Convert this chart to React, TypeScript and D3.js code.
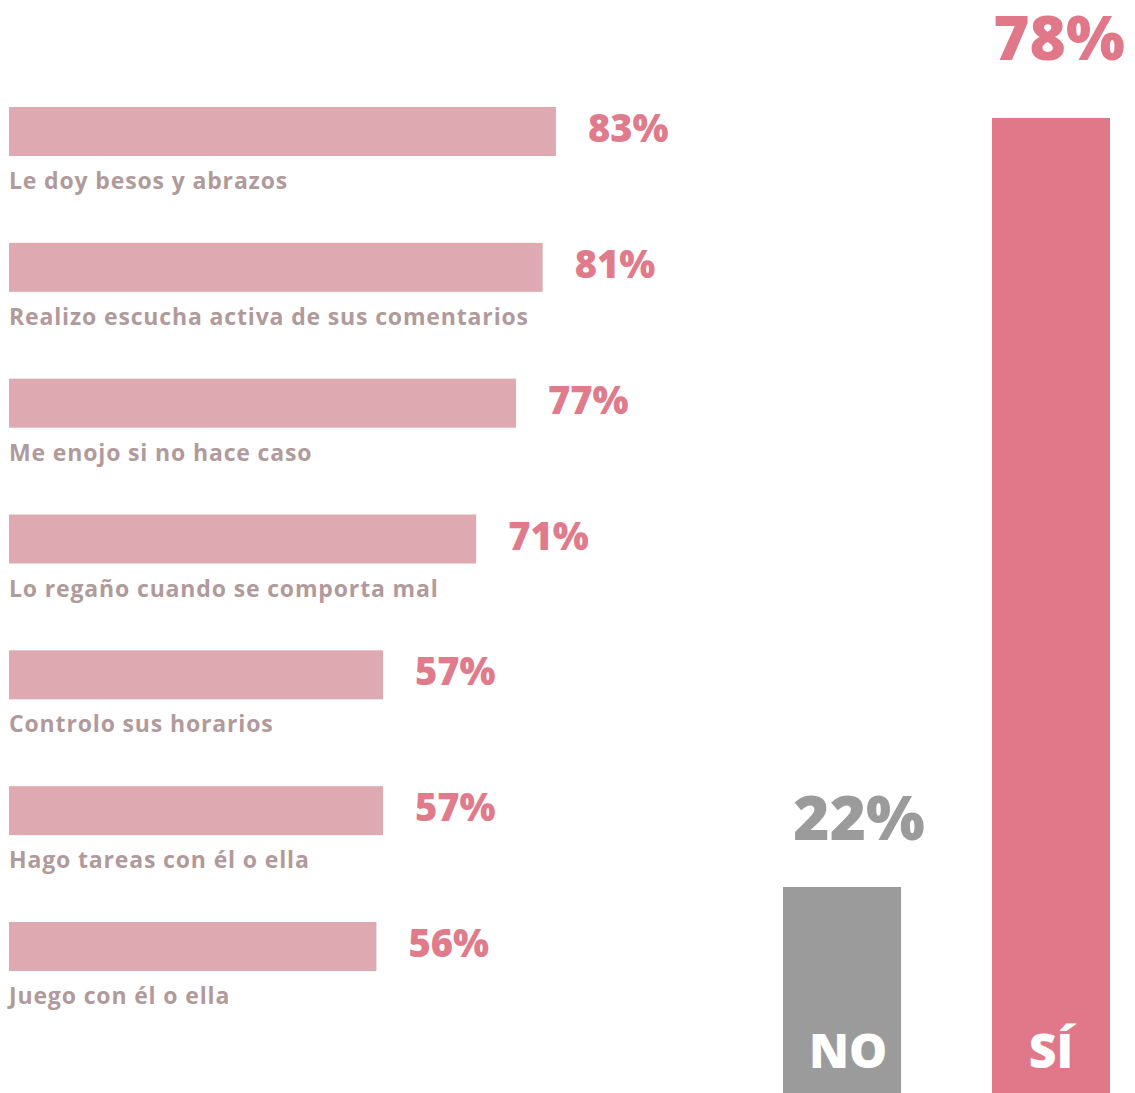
import React from "react";
import * as d3 from "d3";

const categories = [
  "Le doy besos y abrazos",
  "Realizo escucha activa de sus comentarios",
  "Me enojo si no hace caso",
  "Lo regaño cuando se comporta mal",
  "Controlo sus horarios",
  "Hago tareas con él o ella",
  "Juego con él o ella",
];
const values = [83, 81, 77, 71, 57, 57, 56];

const totalLabels = ["NO", "SÍ"];
const totalValues = [22, 78];

const W = 1135;
const H = 1093;

export default function App() {
  const y = d3.scalePoint<string>().domain(categories).range([107, 922]);
  const x = d3.scaleLinear().domain([0, 100]).range([0, 665]);
  const barH = 49;
  const barX = 9;

  const vx = d3
    .scaleBand<string>()
    .domain(totalLabels)
    .range([783, 1110])
    .paddingInner(0.435)
    .paddingOuter(0);
  const vy = d3.scaleLinear().domain([22, 78]).range([887, 118]);
  const bottom = 1093;

  const heavy = "'Open Sans', 'Lato', sans-serif";
  const labelFont = "'Open Sans', 'Lato', sans-serif";
  const colors = ["#9b9b9b", "#e07889"];

  return (
    <svg
      width={W}
      height={H}
      viewBox={`0 0 ${W} ${H}`}
      style={{ position: "absolute", left: 0, top: 0, background: "#fff" }}
    >
      {categories.map((c, i) => {
        const top = y(c)!;
        const w = x(values[i]) - 5;
        return (
          <g key={c}>
            <rect x={barX} y={top} width={w} height={barH} fill="#dfa9b2" />
            <text
              x={barX + w + 32}
              y={top + 35}
              fill="#e07b8c"
              fontFamily={heavy}
              fontWeight={800}
              fontSize={38}
              letterSpacing={0}
            >
              {values[i]}%
            </text>
            <text
              x={barX}
              y={top + 82}
              fill="#b09a9b"
              fontFamily={labelFont}
              fontWeight={700}
              fontSize={23}
              letterSpacing={0.85}
            >
              {c}
            </text>
          </g>
        );
      })}
      {totalLabels.map((l, i) => {
        const bx = vx(l)!;
        const bw = vx.bandwidth();
        const top = vy(totalValues[i]);
        return (
          <g key={l}>
            <rect x={bx} y={top} width={bw} height={bottom - top} fill={colors[i]} />
            <text
              x={bx + bw / 2 + (i === 0 ? 17 : 8)}
              y={top - (i === 0 ? 47 : 58)}
              textAnchor="middle"
              fill={colors[i]}
              fontFamily={heavy}
              fontWeight={800}
              fontSize={62}
              letterSpacing={0}
            >
              {totalValues[i]}%
            </text>
            <text
              x={bx + bw / 2 + (i === 0 ? 6 : 0)}
              y={bottom - 25}
              textAnchor="middle"
              fill="#ffffff"
              fontFamily={heavy}
              fontWeight={800}
              fontSize={48}
            >
              {l}
            </text>
          </g>
        );
      })}
    </svg>
  );
}
